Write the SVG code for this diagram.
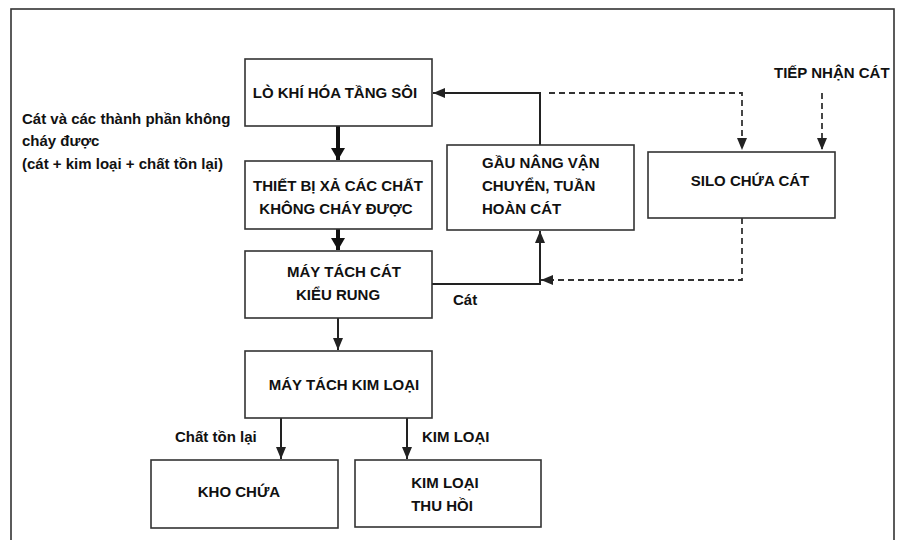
<svg xmlns="http://www.w3.org/2000/svg" width="900" height="540" viewBox="0 0 900 540">
<style>
.box{fill:#fff;stroke:#333;stroke-width:1.6}
.t{font-family:"Liberation Sans",Arial,sans-serif;font-weight:bold;font-size:15px;fill:#111}
.m{text-anchor:middle}
.ln{fill:none;stroke:#222;stroke-width:2}
.thick{fill:none;stroke:#111;stroke-width:4}
.dash{fill:none;stroke:#333;stroke-width:1.8;stroke-dasharray:6 4}
</style>
<defs>
<marker id="ah" viewBox="0 0 10 10" refX="10" refY="5" markerWidth="12" markerHeight="10" markerUnits="userSpaceOnUse" orient="auto" preserveAspectRatio="none"><path d="M0,0 L10,5 L0,10 z" fill="#222"/></marker>
<marker id="ahb" viewBox="0 0 10 10" refX="10" refY="5" markerWidth="12" markerHeight="14" markerUnits="userSpaceOnUse" orient="auto" preserveAspectRatio="none"><path d="M0,0 L10,5 L0,10 z" fill="#111"/></marker>
</defs>
<rect width="900" height="540" fill="#fff"/>
<rect x="11" y="9" width="883" height="545" fill="none" stroke="#333" stroke-width="1.6"/>

<g id="connectors">
<line class="thick" x1="338" y1="126" x2="338" y2="160" marker-end="url(#ahb)"/>
<line class="thick" x1="338" y1="229" x2="338" y2="250" marker-end="url(#ahb)"/>
<line class="ln" x1="338" y1="318" x2="338" y2="350" marker-end="url(#ah)"/>
<line class="ln" x1="281" y1="418" x2="281" y2="459" marker-end="url(#ah)"/>
<line class="ln" x1="407" y1="418" x2="407" y2="459" marker-end="url(#ah)"/>
<polyline class="ln" points="432,284 540,284 540,231" marker-end="url(#ah)"/>
<polyline class="ln" points="540,145 540,93 433,93" marker-end="url(#ah)"/>
<polyline class="dash" points="549,93 742,93 742,150" marker-end="url(#ah)"/>
<line class="dash" x1="822" y1="93" x2="822" y2="150" marker-end="url(#ah)"/>
<polyline class="dash" points="742,218 742,280 541,280" marker-end="url(#ah)"/>
<text class="t" x="453" y="305">Cát</text>
<text class="t" x="175" y="442">Chất tồn lại</text>
<text class="t" x="422" y="442">KIM LOẠI</text>
</g>

<g id="input-label">
<text class="t" x="22" y="124">Cát và các thành phần không</text>
<text class="t" x="22" y="146">cháy được</text>
<text class="t" x="22" y="169">(cát + kim loại + chất tồn lại)</text>
</g>
<g id="tiep-nhan">
<text class="t" x="774" y="78">TIẾP NHẬN CÁT</text>
</g>

<g id="lo-khi-hoa">
<rect class="box" x="245" y="59" width="187" height="67"/>
<text class="t m" x="335" y="98">LÒ KHÍ HÓA TẦNG SÔI</text>
</g>
<g id="thiet-bi-xa">
<rect class="box" x="245" y="161" width="187" height="68"/>
<text class="t m" x="338" y="191">THIẾT BỊ XẢ CÁC CHẤT</text>
<text class="t m" x="336" y="214">KHÔNG CHÁY ĐƯỢC</text>
</g>
<g id="may-tach-cat">
<rect class="box" x="245" y="251" width="187" height="67"/>
<text class="t m" x="344" y="277">MÁY TÁCH CÁT</text>
<text class="t m" x="338" y="300">KIỂU RUNG</text>
</g>
<g id="may-tach-kim-loai">
<rect class="box" x="245" y="351" width="187" height="67"/>
<text class="t m" x="344" y="390">MÁY TÁCH KIM LOẠI</text>
</g>
<g id="kho-chua">
<rect class="box" x="151" y="460" width="187" height="68"/>
<text class="t m" x="239" y="497">KHO CHỨA</text>
</g>
<g id="kim-loai-thu-hoi">
<rect class="box" x="355" y="460" width="186" height="67"/>
<text class="t m" x="445" y="488">KIM LOẠI</text>
<text class="t m" x="442" y="511">THU HỒI</text>
</g>
<g id="gau-nang">
<rect class="box" x="447" y="145" width="187" height="85"/>
<text class="t" x="482" y="168">GẦU NÂNG VẬN</text>
<text class="t" x="482" y="191">CHUYỂN, TUẦN</text>
<text class="t" x="482" y="214">HOÀN CÁT</text>
</g>
<g id="silo">
<rect class="box" x="648" y="152" width="187" height="66"/>
<text class="t m" x="750" y="186">SILO CHỨA CÁT</text>
</g>
</svg>
